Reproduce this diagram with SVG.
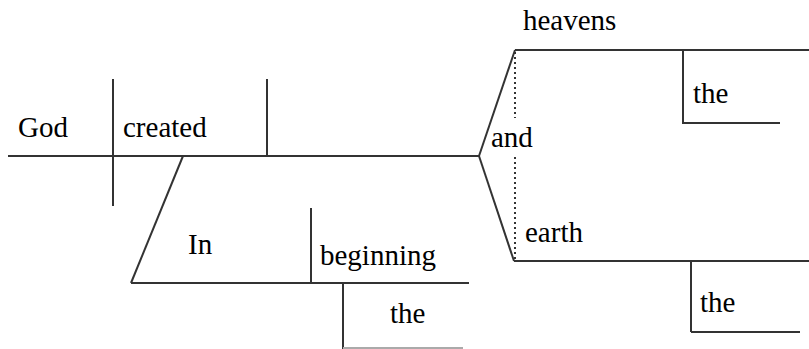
<svg xmlns="http://www.w3.org/2000/svg" width="809" height="349" viewBox="0 0 809 349">
<style>
.l{stroke:#333;stroke-width:2;fill:none}
.d{stroke:#333;stroke-width:2;fill:none;stroke-dasharray:2 3}
.g{stroke:#aaa;stroke-width:2;fill:none}
.t{font-family:'Liberation Serif','DejaVu Serif',serif;font-size:29px;fill:#000}
</style>
<rect width="809" height="349" fill="#fff"/>
<g id="connectors">
<line class="l" x1="8" y1="156" x2="480" y2="156"/>
<line class="l" x1="113" y1="79" x2="113" y2="206"/>
<line class="l" x1="267" y1="79" x2="267" y2="156"/>
<line class="l" x1="183" y1="156" x2="131" y2="283"/>
<line class="l" x1="131" y1="283" x2="469" y2="283"/>
<line class="l" x1="311" y1="208" x2="311" y2="283"/>
<line class="l" x1="343" y1="283" x2="343" y2="349"/>
<line class="g" x1="343" y1="348" x2="463" y2="348"/>
<line class="l" x1="479" y1="156" x2="515" y2="50"/>
<line class="l" x1="479" y1="156" x2="514" y2="261"/>
<line class="d" x1="515" y1="52" x2="515" y2="118"/>
<line class="d" x1="515" y1="157" x2="515" y2="259"/>
<line class="l" x1="515" y1="50" x2="809" y2="50"/>
<line class="l" x1="683" y1="50" x2="683" y2="124"/>
<line class="l" x1="683" y1="123" x2="780" y2="123"/>
<line class="l" x1="514" y1="261" x2="809" y2="261"/>
<line class="l" x1="691" y1="261" x2="691" y2="332"/>
<line class="l" x1="691" y1="332" x2="800" y2="332"/>
</g>
<g id="god"><text class="t" x="18" y="137">God</text></g>
<g id="created"><text class="t" x="123" y="137">created</text></g>
<g id="in"><text class="t" x="188" y="254">In</text></g>
<g id="beginning"><text class="t" x="320" y="265">beginning</text></g>
<g id="the1"><text class="t" x="390" y="323">the</text></g>
<g id="and"><text class="t" x="491" y="147">and</text></g>
<g id="heavens"><text class="t" x="523" y="30">heavens</text></g>
<g id="the2"><text class="t" x="693" y="103">the</text></g>
<g id="earth"><text class="t" x="525" y="242">earth</text></g>
<g id="the3"><text class="t" x="700" y="312">the</text></g>
</svg>
